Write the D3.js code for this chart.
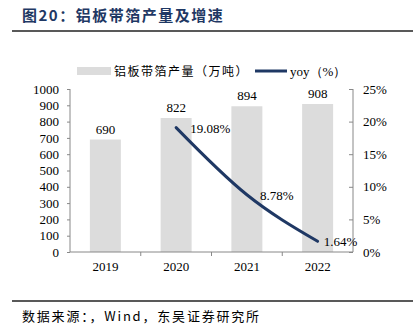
<!DOCTYPE html>
<html>
<head>
<meta charset="utf-8">
<script src="https://cdn.jsdelivr.net/npm/d3@7"></script>
<style>
  body { margin: 0; background: #fff; }
  svg { display: block; }
</style>
</head>
<body>
<svg width="417" height="332"></svg>
<script>
// chart data
const years = ['2019', '2020', '2021', '2022'];
const output = [690, 822, 894, 908];
const yoy = [null, 19.08, 8.78, 1.64];
const leftTicks = [0, 100, 200, 300, 400, 500, 600, 700, 800, 900, 1000];
const rightTicks = [0, 5, 10, 15, 20, 25];

const svg = d3.select('svg');
const navy = '#1f3864';
const serif = '"Liberation Serif", "Times New Roman", Times, serif';
const cjk = '"Noto Sans CJK SC", sans-serif';

// apply number font
function numFont(sel) {
  sel.style('font-family', serif)
     .style('font-size', '13px')
     .style('fill', '#000');
}

// title and rules
svg.append('text')
  .text('图20：铝板带箔产量及增速')
  .attr('x', 22)
  .attr('y', 21)
  .style('font-family', cjk)
  .style('font-weight', 'bold')
  .style('font-size', '15px')
  .style('letter-spacing', '1.5px')
  .style('fill', navy);
svg.append('line')
  .attr('x1', 12).attr('x2', 413)
  .attr('y1', 31).attr('y2', 31)
  .style('stroke', '#222').style('stroke-width', 1.5);
svg.append('line')
  .attr('x1', 12).attr('x2', 413)
  .attr('y1', 301).attr('y2', 301)
  .style('stroke', '#222').style('stroke-width', 1.5);
svg.append('text')
  .text('数据来源：，Wind，东吴证券研究所')
  .attr('x', 22)
  .attr('y', 321)
  .style('font-family', cjk)
  .style('font-size', '13px')
  .style('letter-spacing', '1.8px')
  .style('fill', '#000');

// scales
const band = d3.scaleBand().domain(years).range([70, 353]);
const yScale = d3.scaleLinear().domain([0, 1000]).range([252, 89]);
const y2Scale = d3.scaleLinear().domain([0, 25]).range([252, 89]);
const cx = y => band(y) + band.bandwidth() / 2;

// bars
svg.append('g')
  .selectAll('rect')
  .data(output)
  .enter()
  .append('rect')
  .attr('x', (d, i) => cx(years[i]) - 15.5)
  .attr('width', 31)
  .attr('y', d => yScale(d))
  .attr('height', d => 252 - yScale(d))
  .style('fill', '#dcdcdc');

// bar labels
svg.append('g')
  .selectAll('text')
  .data(output)
  .enter()
  .append('text')
  .text(d => d)
  .attr('text-anchor', 'middle')
  .attr('x', (d, i) => cx(years[i]))
  .attr('y', d => yScale(d) - 6)
  .call(numFont);

// left axis
const yAxis = d3.axisLeft(yScale).tickValues(leftTicks).tickSize(3).tickPadding(8).tickFormat(d3.format('d'));
const gy = svg.append('g').attr('transform', 'translate(70, 0)').call(yAxis);
gy.select('.domain').attr('d', 'M0,89V252').style('stroke', '#888');
gy.selectAll('.tick line').style('stroke', '#888');
gy.selectAll('.tick text').call(numFont);

// right axis
const y2Axis = d3.axisRight(y2Scale).tickValues(rightTicks).tickSize(-4).tickPadding(10).tickFormat(d => d + '%');
const gy2 = svg.append('g').attr('transform', 'translate(353, 0)').call(y2Axis);
gy2.select('.domain').attr('d', 'M0,89V252').style('stroke', '#888');
gy2.selectAll('.tick line').style('stroke', '#888');
gy2.selectAll('.tick text').call(numFont);

// bottom axis
const xAxis = d3.axisBottom(band).tickSize(0).tickPadding(10);
const gx = svg.append('g').attr('transform', 'translate(0, 252)').call(xAxis);
gx.select('.domain').attr('d', 'M70,0H353').style('stroke', '#888');
gx.selectAll('.tick text').call(numFont);
gx.selectAll('.sep')
  .data(years.slice(1))
  .enter()
  .append('line')
  .attr('x1', d => band(d)).attr('x2', d => band(d))
  .attr('y1', 0).attr('y2', 4)
  .style('stroke', '#888');

// yoy line
const pts = yoy.map((v, i) => ({ year: years[i], v: v })).filter(d => d.v !== null);
const line = d3.line()
  .x(d => cx(d.year))
  .y(d => y2Scale(d.v))
  .curve(d3.curveMonotoneX);
svg.append('path')
  .attr('d', line(pts))
  .attr('fill', 'none')
  .attr('stroke', navy)
  .attr('stroke-width', 3)
  .attr('stroke-linecap', 'round');

const offsets = [[14, 5], [13, 5], [6, 5]];
svg.append('g')
  .selectAll('text')
  .data(pts)
  .enter()
  .append('text')
  .text(d => d.v.toFixed(2) + '%')
  .attr('x', (d, i) => cx(d.year) + offsets[i][0])
  .attr('y', (d, i) => y2Scale(d.v) + offsets[i][1])
  .call(numFont);

// legend
svg.append('rect')
  .attr('x', 77).attr('y', 67)
  .attr('width', 34).attr('height', 8)
  .style('fill', '#dcdcdc');
svg.append('text')
  .text('铝板带箔产量（万吨）')
  .attr('x', 114)
  .attr('y', 76)
  .style('font-family', cjk)
  .style('font-size', '12px')
  .style('letter-spacing', '1.5px')
  .style('fill', '#000');
svg.append('line')
  .attr('x1', 255).attr('x2', 287)
  .attr('y1', 71).attr('y2', 71)
  .style('stroke', navy).style('stroke-width', 3);
svg.append('text')
  .text('yoy（%）')
  .attr('x', 290)
  .attr('y', 76)
  .call(numFont);
</script>
</body>
</html>
